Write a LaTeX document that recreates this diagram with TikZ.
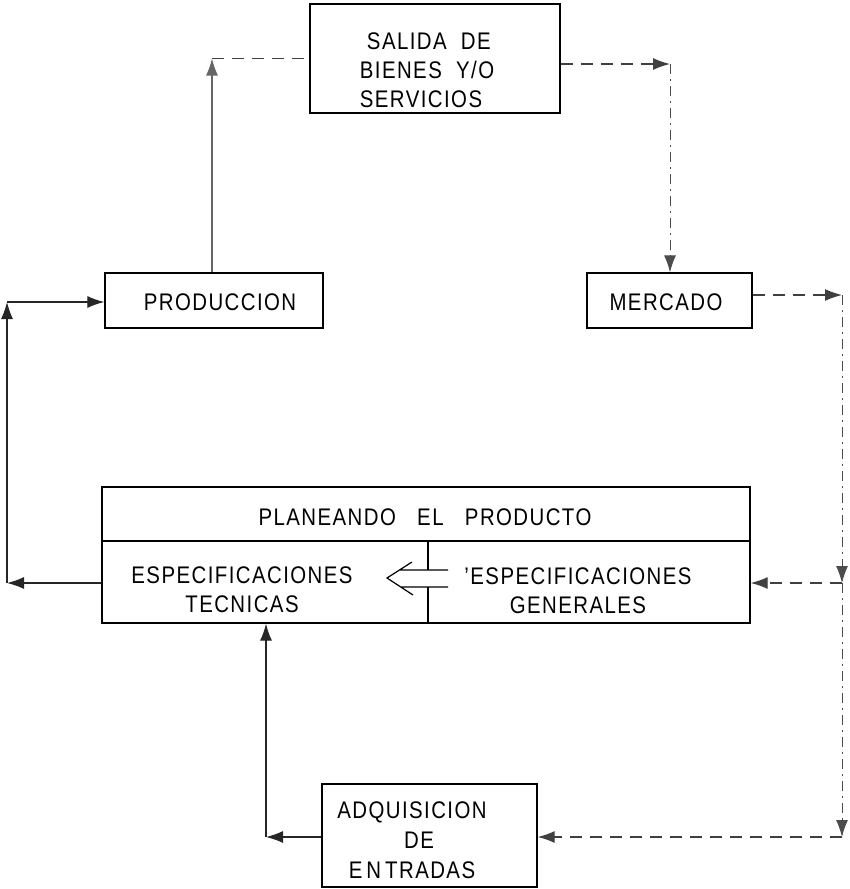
\documentclass[tikz,border=0pt]{standalone}
\usepackage{fontspec}
\setmainfont{Liberation Sans}[LetterSpace=6, FakeStretch=0.85]
\usetikzlibrary{arrows.meta}
\begin{document}
\begin{tikzpicture}[x=1pt,y=-1pt,
  box/.style={draw,line width=1.3pt,inner sep=0pt},
  lbl/.style={inner sep=0pt,align=center,font=\fontsize{24}{29}\selectfont},
  arrowtip/.style={-{Latex[length=17pt,width=12pt]}},
  link/.style={line width=1.2pt,black!85},
  dashlink/.style={line width=1.2pt,black!75,dash pattern=on 12pt off 8pt},
  dotlink/.style={line width=1pt,black!70,dash pattern=on 10pt off 5pt on 2pt off 5pt}]
\useasboundingbox (0,0) rectangle (850,889);

% boxes
\node[box,minimum width=250,minimum height=109] (salida) at (435,58.5) {};
\node[lbl,align=left] (salidatxt) at (427,70) {\ SALIDA\ \ DE\\BIENES\ \ Y/O\\SERVICIOS};

\node[box,minimum width=218,minimum height=55] (prod) at (214,300.5) {};
\node[lbl] (prodtxt) at (220,302) {PRODUCCION};

\node[box,minimum width=165,minimum height=55] (merc) at (669.5,300.5) {};
\node[lbl] (merctxt) at (666,302) {MERCADO};

\node[box,minimum width=648,minimum height=136] (plan) at (426,555) {};
\coordinate (rowline) at (0,541);
\draw[line width=1.3pt] (plan.west |- rowline) -- (plan.east |- rowline);
\node[lbl] (plantitle) at (425,517) {PLANEANDO\ \ \ EL\ \ \ PRODUCTO};
\node[lbl] (tec) at (242,590) {ESPECIFICACIONES\\TECNICAS};
\node[lbl] (gen) at (578,591) {'ESPECIFICACIONES\\GENERALES};

% cell divider, broken by the hollow arrow
\draw[line width=1.3pt] (428,541) -- (428,570) (428,587) -- (428,623);
\draw[line width=1.2pt] (412,562) -- (387,578) -- (413,595)
  (400,570) -- (448,570) (401,587) -- (448,587);

\node[box,minimum width=215,minimum height=103] (adq) at (429.5,835.5) {};
\node[lbl,font=\fontsize{24}{30}\selectfont] (adqtxt) at (412,840) {ADQUISICION\\\ \ DE\\E\,N\,TRADAS};

% connectors
\coordinate (c1) at (212,58.5);
\draw[link,arrowtip,black!60] (prod.north -| c1) -- (c1);
\draw[dashlink] (c1) -- (salida.west);
\coordinate (c2) at (670,64);
\draw[dashlink,arrowtip] (salida.east |- c2) -- (c2);
\draw[dotlink,arrowtip] (c2) -- (merc.north -| c2);
\coordinate (c3) at (842,295);
\draw[dashlink,arrowtip] (merc.east |- c3) -- (c3);
\coordinate (c4) at (842,583);
\draw[dotlink,arrowtip] (c3) -- (c4);
\draw[dashlink,arrowtip] (c4) -- (plan.east |- c4);
\coordinate (c5) at (842,837);
\draw[dotlink,arrowtip] (c4) -- (c5);
\draw[dashlink,arrowtip] (c5) -- (adq.east |- c5);
\coordinate (c6) at (266,837);
\draw[link,arrowtip] (adq.west |- c6) -- (c6);
\draw[link,arrowtip] (c6) -- (plan.south -| c6);
\coordinate (c7) at (7,583);
\draw[link,arrowtip] (plan.west |- c7) -- (c7);
\coordinate (c8) at (7,302);
\draw[link,arrowtip] (c7) -- (c8);
\draw[link,arrowtip] (c8) -- (prod.west |- c8);
\end{tikzpicture}
\end{document}
